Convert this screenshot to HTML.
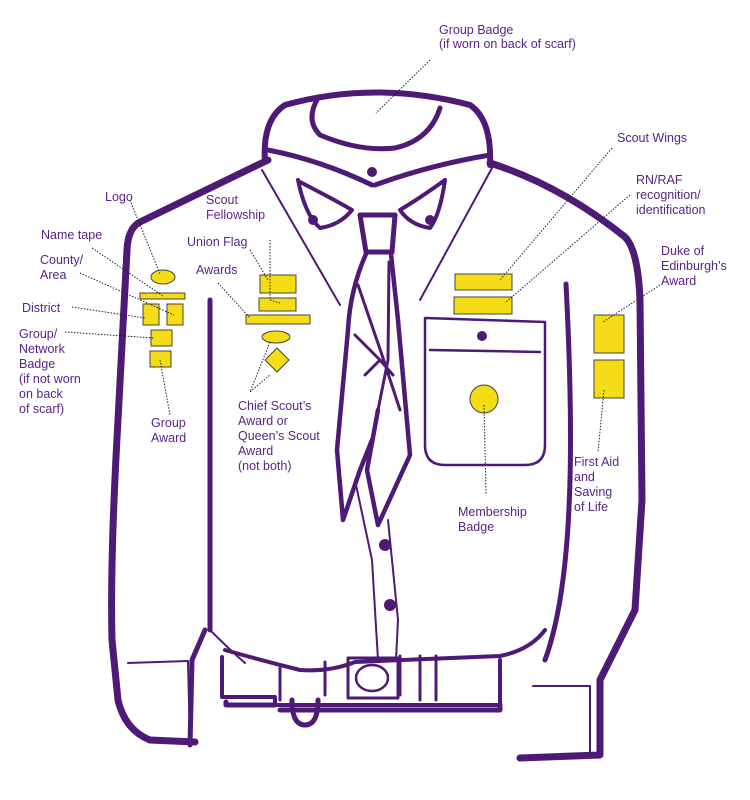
<!DOCTYPE html>
<html><head><meta charset="utf-8"><style>
html,body{margin:0;padding:0;background:#fff;width:750px;height:800px;overflow:hidden}
svg{display:block}
text{font-family:"Liberation Sans",sans-serif;font-size:12.5px;fill:#5b2386}
.p{fill:none;stroke:#4e1a75;stroke-linejoin:round;stroke-linecap:round}
.y{fill:#f4dd16;stroke:#444;stroke-width:1}
.d{fill:none;stroke:#222;stroke-width:1;stroke-dasharray:1.5 1.5}
</style></head><body>
<svg width="750" height="800" viewBox="0 0 750 800">
<g class="p">
<!-- left sleeve outer -->
<path d="M268 160 L140 222 Q128 228 127 250 L118 420 Q110 560 112 640 L118 700 Q125 730 150 740 L195 742" stroke-width="7"/>
<path d="M128 663 L188 661 L190 745" stroke-width="2"/>
<path d="M210 300 L210 630" stroke-width="5"/>
<path d="M205 630 L192 660 L190 745" stroke-width="5"/>
<path d="M210 630 Q230 650 245 663" stroke-width="2"/>
<!-- right sleeve -->
<path d="M490 163 Q560 185 625 237 Q638 250 640 300 L642 500 L635 610 L600 680 L600 755 L520 758" stroke-width="7"/>
<path d="M533 686 L590 686 L590 755" stroke-width="2"/>
<path d="M566 284 Q572 400 570 480 Q567 600 545 660" stroke-width="5"/>
<!-- collar -->
<path d="M265 162 Q262 120 285 105 Q375 80 470 105 Q492 120 490 165" stroke-width="6"/>
<path d="M318 98 Q305 120 320 135 Q360 152 395 148 Q430 140 440 108" stroke-width="5"/>
<path d="M268 150 Q320 160 372 185 M490 155 Q430 165 375 185" stroke-width="5"/>
<path d="M298 180 Q305 215 320 228 Q340 225 352 210 Q335 200 300 182 M445 180 Q440 215 430 228 Q410 225 400 210 Q420 198 445 180" stroke-width="4"/>
<path d="M262 170 L340 305 M492 168 L420 300" stroke-width="2"/>
<!-- scarf -->
<path d="M360 215 L395 215 L392 252 L366 252 Z" stroke-width="5"/>
<path d="M366 254 Q350 290 348 330 L337 450 L343 520 L360 470 L372 440" stroke-width="4.5"/>
<path d="M391 254 L398 320 L410 455 L378 525 L367 470 L378 410" stroke-width="4.5"/>
<path d="M358 285 L382 355 L400 410 M389 262 L388 360 L372 440 M355 335 L380 360 L365 375 M380 360 L393 375" stroke-width="3"/>
<!-- placket -->
<path d="M355 480 L372 560 L378 660 M388 520 L398 620 L396 660" stroke-width="2"/>
<!-- pocket -->
<path d="M425 318 L545 322 L545 445 Q545 465 525 465 L445 465 Q425 465 425 445 Z" stroke-width="2.5"/>
<path d="M430 350 L540 352" stroke-width="2.5"/>
<!-- body bottom / belt -->
<path d="M225 650 Q260 660 300 670 Q330 672 355 662 L500 656 Q530 650 545 630" stroke-width="4"/>
<path d="M222 657 L222 697 L275 697 L275 705 L500 705 L500 660" stroke-width="4"/>
<path d="M226 702 L226 705 L275 705 M280 710 L500 710 L500 705" stroke-width="5"/>
<rect x="348" y="658" width="50" height="40" stroke-width="3"/>
<ellipse cx="372" cy="678" rx="16" ry="13" stroke-width="2.5"/>
<path d="M325 662 L325 695 M400 656 L400 695 M420 656 L420 700 M436 656 L436 700 M280 668 L280 700" stroke-width="3"/>
<path d="M292 700 Q292 725 305 725 Q318 725 318 700" stroke-width="5"/>
</g>
<g fill="#4e1a75">
<circle cx="372" cy="172" r="5"/><circle cx="313" cy="220" r="5"/><circle cx="430" cy="220" r="5"/>
<circle cx="385" cy="545" r="6"/><circle cx="390" cy="605" r="6"/><circle cx="482" cy="336" r="5"/>
</g>
<g class="y">
<ellipse cx="163" cy="277" rx="12" ry="7"/>
<rect x="140" y="293" width="45" height="6"/>
<rect x="143" y="304" width="16" height="21"/><rect x="167" y="304" width="16" height="21"/>
<rect x="151" y="330" width="21" height="16"/><rect x="150" y="351" width="21" height="16"/>
<rect x="260" y="275" width="36" height="18"/><rect x="259" y="298" width="37" height="13"/>
<rect x="246" y="315" width="64" height="9"/>
<ellipse cx="276" cy="337" rx="14" ry="6"/>
<path d="M277 348 L289 360 L277 372 L265 360 Z"/>
<rect x="455" y="274" width="57" height="16"/><rect x="454" y="297" width="58" height="17"/>
<rect x="594" y="315" width="30" height="38"/><rect x="594" y="360" width="30" height="38"/>
<circle cx="484" cy="399" r="14"/>
</g>
<g class="d">
<path d="M430 60 L376 113"/>
<path d="M130 200 L160 274"/><path d="M92 248 L163 296"/><path d="M80 273 L174 315"/>
<path d="M72 307 L145 318"/><path d="M65 332 L154 338"/><path d="M160 360 L170 415"/>
<path d="M270 240 L270 300 L280 303"/><path d="M250 250 L268 280"/><path d="M218 283 L250 318"/>
<path d="M270 342 L250 392 L270 375"/>
<path d="M612 148 L500 280"/><path d="M630 195 L505 303"/><path d="M660 285 L603 322"/>
<path d="M604 390 L598 452"/><path d="M484 405 L486 495"/>
</g>
<text x="439" y="34">Group Badge</text><text x="439" y="48">(if worn on back of scarf)</text>
<text x="105" y="201">Logo</text>
<text x="41" y="239">Name tape</text>
<text x="40" y="264">County/</text><text x="40" y="279">Area</text>
<text x="22" y="312">District</text>
<text x="19" y="338">Group/</text><text x="19" y="353">Network</text><text x="19" y="368">Badge</text><text x="19" y="383">(if not worn</text><text x="19" y="398">on back</text><text x="19" y="413">of scarf)</text>
<text x="151" y="427">Group</text><text x="151" y="442">Award</text>
<text x="206" y="204">Scout</text><text x="206" y="219">Fellowship</text>
<text x="187" y="246">Union Flag</text>
<text x="196" y="274">Awards</text>
<text x="238" y="410">Chief Scout’s</text><text x="238" y="425">Award or</text><text x="238" y="440">Queen’s Scout</text><text x="238" y="455">Award</text><text x="238" y="470">(not both)</text>
<text x="617" y="142">Scout Wings</text>
<text x="636" y="184">RN/RAF</text><text x="636" y="199">recognition/</text><text x="636" y="214">identification</text>
<text x="661" y="255">Duke of</text><text x="661" y="270">Edinburgh’s</text><text x="661" y="285">Award</text>
<text x="574" y="466">First Aid</text><text x="574" y="481">and</text><text x="574" y="496">Saving</text><text x="574" y="511">of Life</text>
<text x="458" y="516">Membership</text><text x="458" y="531">Badge</text>
</svg>
</body></html>
